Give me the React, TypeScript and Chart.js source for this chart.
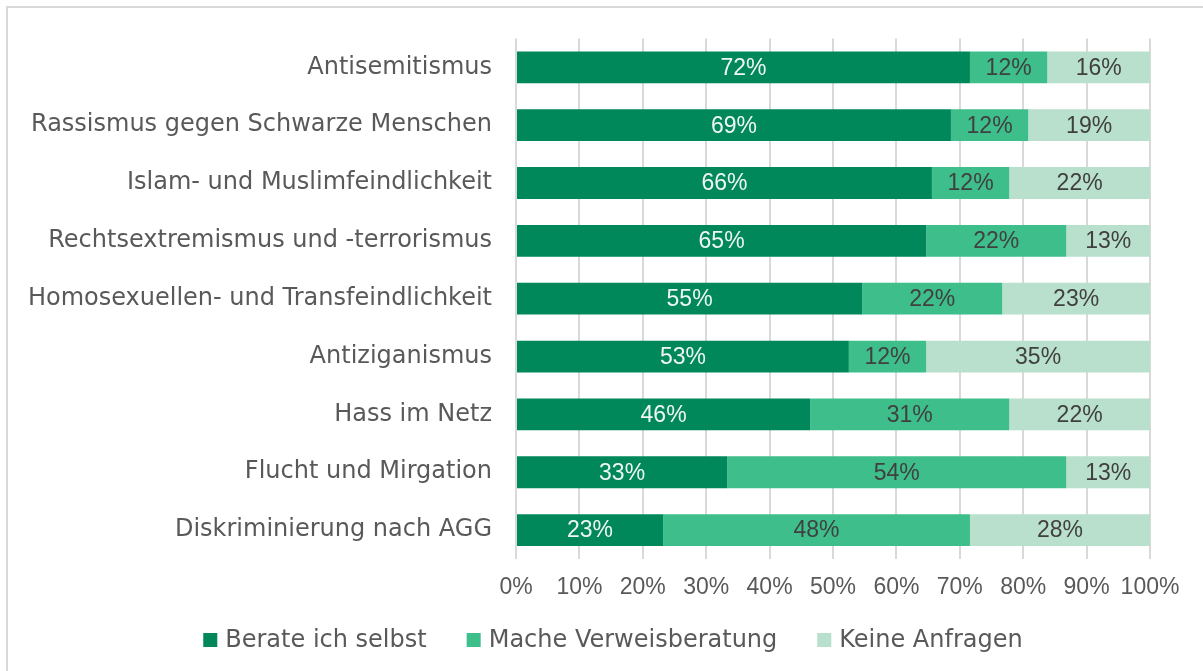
import React, { useEffect, useRef } from "react";
import { Chart, registerables } from "chart.js";

Chart.register(...registerables);

const categories = [
  "Antisemitismus",
  "Rassismus gegen Schwarze Menschen",
  "Islam- und Muslimfeindlichkeit",
  "Rechtsextremismus und -terrorismus",
  "Homosexuellen- und Transfeindlichkeit",
  "Antiziganismus",
  "Hass im Netz",
  "Flucht und Mirgation",
  "Diskriminierung nach AGG",
];

const berateSelbst = [71.6, 68.6, 65.6, 64.7, 54.6, 52.5, 46.4, 33.3, 23.2];
const verweisberatung = [12.2, 12.2, 12.2, 22.1, 22.1, 12.2, 31.4, 53.5, 48.4];
const keineAnfragen = [16.2, 19.2, 22.2, 13.2, 23.3, 35.3, 22.2, 13.2, 28.4];

const seriesNames = ["Berate ich selbst", "Mache Verweisberatung", "Keine Anfragen"];
const seriesColors = ["#00875A", "#3DBE8B", "#B9E0CC"];
const labelColors = ["#EEF7F2", "#404040", "#404040"];

const NUM_FONT = "'Liberation Sans', Arial, sans-serif";
const CAT_FONT = "'DejaVu Sans', Verdana, sans-serif";

const barLabelPlugin = {
  id: "barLabels",
  afterDatasetsDraw(chart: any) {
    const ctx = chart.ctx;
    ctx.save();
    ctx.font = `23px ${NUM_FONT}`;
    ctx.textAlign = "center";
    ctx.textBaseline = "middle";
    chart.data.datasets.forEach((ds: any, di: number) => {
      const meta = chart.getDatasetMeta(di);
      meta.data.forEach((bar: any, i: number) => {
        const v = ds.data[i];
        const cx = (bar.base + bar.x) / 2;
        ctx.fillStyle = labelColors[di];
        ctx.fillText(Math.round(v) + "%", cx, bar.y + 1);
      });
    });
    ctx.restore();
  },
};

const legendPlugin = {
  id: "customLegend",
  afterDraw(chart: any) {
    const ctx = chart.ctx;
    ctx.save();
    ctx.font = `24px ${CAT_FONT}`;
    const box = 14;
    const gapText = 8;
    const gapItem = 40;
    const widths = seriesNames.map((n) => box + gapText + ctx.measureText(n).width);
    const total = widths.reduce((a, b) => a + b, 0) + gapItem * (widths.length - 1);
    let x = 613 - total / 2;
    const y = 640;
    ctx.textBaseline = "middle";
    ctx.textAlign = "left";
    seriesNames.forEach((n, i) => {
      ctx.fillStyle = seriesColors[i];
      ctx.fillRect(x, y - box / 2, box, box);
      ctx.fillStyle = "#595959";
      ctx.fillText(n, x + box + gapText, y + 1);
      x += widths[i] + gapItem;
    });
    ctx.restore();
  },
};

export default function App() {
  const ref = useRef<HTMLCanvasElement | null>(null);

  useEffect(() => {
    if (!ref.current) return;
    const data = [berateSelbst, verweisberatung, keineAnfragen];
    const chart = new Chart(ref.current, {
      type: "bar",
      data: {
        labels: categories,
        datasets: seriesNames.map((name, i) => ({
          label: name,
          data: data[i],
          backgroundColor: seriesColors[i],
          borderWidth: 0,
          barPercentage: 0.55,
          categoryPercentage: 1,
        })),
      },
      options: {
        indexAxis: "y",
        animation: false,
        responsive: false,
        maintainAspectRatio: false,
        layout: { padding: { top: 34, right: 53, left: 0, bottom: 0 } },
        plugins: {
          legend: { display: false },
          tooltip: { enabled: false },
        },
        scales: {
          x: {
            stacked: true,
            min: 0,
            max: 100,
            ticks: {
              stepSize: 10,
              autoSkip: false,
              callback: (v: any) => v + "%",
              color: "#595959",
              font: { family: NUM_FONT, size: 23 },
              padding: 15,
              maxRotation: 0,
              minRotation: 0,
            },
            grid: { color: "#D9D9D9", lineWidth: 2, drawTicks: false },
            border: { display: false },
            afterFit: (scale: any) => {
              scale.height = 112;
            },
          },
          y: {
            stacked: true,
            ticks: {
              color: "#595959",
              font: { family: CAT_FONT, size: 24 },
              padding: 24,
            },
            grid: { display: false, drawTicks: false },
            border: { display: false },
            afterFit: (scale: any) => {
              scale.width = 516;
            },
          },
        },
      },
      plugins: [barLabelPlugin, legendPlugin],
    });
    return () => chart.destroy();
  }, []);

  return (
    <div style={{ position: "absolute", left: 0, top: 0, width: 1203, height: 671, background: "#fff", overflow: "hidden" }}>
      <div
        style={{
          position: "absolute",
          left: 6,
          top: 6,
          width: 1300,
          height: 800,
          borderLeft: "2px solid #D9D9D9",
          borderTop: "2px solid #D9D9D9",
        }}
      />
      <canvas ref={ref} width={1203} height={671} style={{ position: "absolute", left: 0, top: 0, width: 1203, height: 671 }} />
    </div>
  );
}
